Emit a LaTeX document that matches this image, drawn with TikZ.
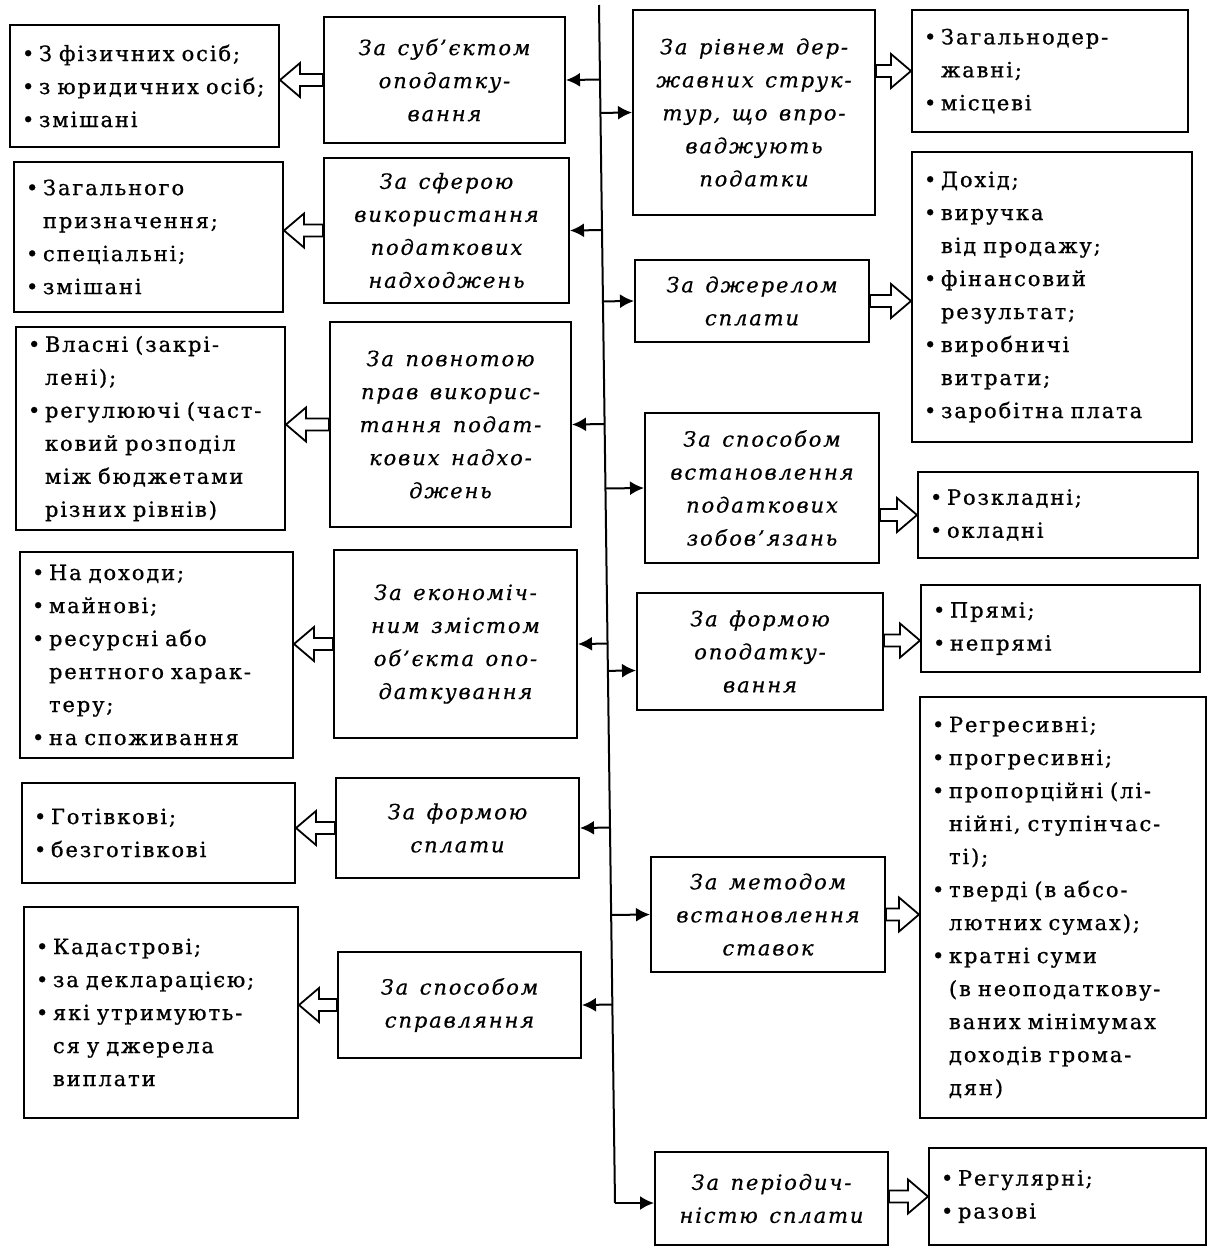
\documentclass[tikz,border=0pt]{standalone}
\usepackage{fontspec}
\setmainfont{DejaVu Serif}
\newfontfamily\listfont{DejaVu Serif}[LetterSpace=9, WordSpace=1.35, FakeBold=0.8]
\newfontfamily\catfont{DejaVu Serif}[LetterSpace=9, WordSpace=1.35, FakeBold=0.5]
\usetikzlibrary{arrows.meta,calc}
\newcommand\itembul{\makebox[17pt][l]{•}}
\newcommand\itemcont{\hspace*{17pt}}
\tikzset{
  frame/.style={draw, line width=2pt, inner ysep=0pt},
  catbox/.style={frame, align=center, inner xsep=2pt, font=\catfont\itshape\fontsize{21}{33}\selectfont},
  listbox/.style={frame, align=left, inner xsep=12pt, font=\listfont\fontsize{21}{33}\selectfont},
  branch/.style={line width=2pt, -{Latex[length=14pt,width=14pt]}},
  spine/.style={line width=2pt},
  hollow/.style={line width=1.8pt, to path={
    let \p1=(\tikztostart), \p2=(\tikztotarget), \n1={sign(\x2-\x1)} in
    (\x1,{\y1-6pt}) -- ({\x2-(\n1)*20pt},{\y1-6pt}) -- ({\x2-(\n1)*20pt},{\y1-17pt})
    -- (\x2,\y1) -- ({\x2-(\n1)*20pt},{\y1+17pt}) -- ({\x2-(\n1)*20pt},{\y1+6pt})
    -- (\x1,{\y1+6pt}) -- cycle}}
}
\begin{document}
\begin{tikzpicture}[x=1pt,y=-1pt]
\fill[white] (0,0) rectangle (1211,1248);
\useasboundingbox (0,0) rectangle (1211,1248);

% left lists
\node[listbox, minimum width=269pt, minimum height=122pt, text width=245pt] (L1) at (144.5,86)
  {\itembul З фізичних осіб;\\ \itembul з юридичних осіб;\\ \itembul змішані};
\node[listbox, minimum width=269pt, minimum height=150pt, text width=245pt] (L2) at (148.5,237)
  {\itembul Загального\\ \itemcont призначення;\\ \itembul спеціальні;\\ \itembul змішані};
\node[listbox, minimum width=269pt, minimum height=203pt, text width=245pt] (L3) at (150.5,428.5)
  {\itembul Власні (закрі-\\ \itemcont лені);\\ \itembul регулюючі (част-\\ \itemcont ковий розподіл\\ \itemcont між бюджетами\\ \itemcont різних рівнів)};
\node[listbox, minimum width=273pt, minimum height=206pt, text width=249pt] (L4) at (156.5,655)
  {\itembul На доходи;\\ \itembul майнові;\\ \itembul ресурсні або\\ \itemcont рентного харак-\\ \itemcont теру;\\ \itembul на споживання};
\node[listbox, minimum width=273pt, minimum height=100pt, text width=249pt] (L5) at (158.5,833)
  {\itembul Готівкові;\\ \itembul безготівкові};
\node[listbox, minimum width=274pt, minimum height=211pt, text width=250pt] (L6) at (161,1012.5)
  {\itembul Кадастрові;\\ \itembul за декларацією;\\ \itembul які утримують-\\ \itemcont ся у джерела\\ \itemcont виплати};

% left categories
\node[catbox, minimum width=241pt, minimum height=126pt] (C1) at (444.5,80)
  {За суб’єктом\\ оподатку-\\ вання};
\node[catbox, minimum width=245pt, minimum height=145pt] (C2) at (446.5,230.5)
  {За сферою\\ використання\\ податкових\\ надходжень};
\node[catbox, minimum width=241pt, minimum height=205pt] (C3) at (450.5,424.5)
  {За повнотою\\ прав викорис-\\ тання подат-\\ кових надхо-\\ джень};
\node[catbox, minimum width=243pt, minimum height=188pt] (C4) at (455.5,644)
  {За економіч-\\ ним змістом\\ об’єкта опо-\\ даткування};
\node[catbox, minimum width=243pt, minimum height=100pt] (C5) at (457.5,828)
  {За формою\\ сплати};
\node[catbox, minimum width=243pt, minimum height=106pt] (C6) at (459.5,1005)
  {За способом\\ справляння};

% right categories
\node[catbox, minimum width=242pt, minimum height=205pt] (R1) at (754,112.5)
  {За рівнем дер-\\ жавних струк-\\ тур, що впро-\\ ваджують\\ податки};
\node[catbox, minimum width=234pt, minimum height=82pt] (R2) at (752,301)
  {За джерелом\\ сплати};
\node[catbox, minimum width=234pt, minimum height=150pt] (R3) at (762,488)
  {За способом\\ встановлення\\ податкових\\ зобов’язань};
\node[catbox, minimum width=246pt, minimum height=117pt] (R4) at (760,651.5)
  {За формою\\ оподатку-\\ вання};
\node[catbox, minimum width=234pt, minimum height=115pt] (R5) at (768,914.5)
  {За методом\\ встановлення\\ ставок};
\node[catbox, minimum width=233pt, minimum height=93pt] (R6) at (771.5,1198.5)
  {За періодич-\\ ністю сплати};

% right lists
\node[listbox, minimum width=276pt, minimum height=122pt, text width=252pt] (RR1) at (1050,71)
  {\itembul Загальнодер-\\ \itemcont жавні;\\ \itembul місцеві};
\node[listbox, minimum width=280pt, minimum height=290pt, text width=256pt] (RR2) at (1052,297)
  {\itembul Дохід;\\ \itembul виручка\\ \itemcont від продажу;\\ \itembul фінансовий\\ \itemcont результат;\\ \itembul виробничі\\ \itemcont витрати;\\ \itembul заробітна плата};
\node[listbox, minimum width=280pt, minimum height=86pt, text width=256pt] (RR3) at (1058,515)
  {\itembul Розкладні;\\ \itembul окладні};
\node[listbox, minimum width=279pt, minimum height=87pt, text width=255pt] (RR4) at (1060.5,628.5)
  {\itembul Прямі;\\ \itembul непрямі};
\node[listbox, minimum width=286pt, minimum height=421pt, text width=262pt] (RR5) at (1063,907.5)
  {\itembul Регресивні;\\ \itembul прогресивні;\\ \itembul пропорційні (лі-\\ \itemcont нійні, ступінчас-\\ \itemcont ті);\\ \itembul тверді (в абсо-\\ \itemcont лютних сумах);\\ \itembul кратні суми\\ \itemcont (в неоподаткову-\\ \itemcont ваних мінімумах\\ \itemcont доходів грома-\\ \itemcont дян)};
\node[listbox, minimum width=277pt, minimum height=97pt, text width=253pt] (RR6) at (1067.5,1196.5)
  {\itembul Регулярні;\\ \itembul разові};

% spine
\coordinate (sT) at (599,5);
\coordinate (sB) at (615,1203);
\draw[spine] (sT) -- (sB);
\draw[branch] (sB) -- (sB -| R6.west);

% branches to the left
\foreach \c in {C1,C2,C3,C4,C5,C6}
  \draw[branch] ($(sT)!(\c.east)!(sB)$) -- (\c.east);
% branches to the right
\foreach \c in {R1,R2,R3,R5}
  \draw[branch] ($(sT)!(\c.west)!(sB)$) -- (\c.west);
\draw[branch] ($(sT)!([yshift=-19pt]R4.west)!(sB)$) -- ([yshift=-19pt]R4.west);

% hollow arrows
\draw[hollow] (C1.west) to (C1.west -| L1.east);
\draw[hollow] (C2.west) to (C2.west -| L2.east);
\draw[hollow] (C3.west) to (C3.west -| L3.east);
\draw[hollow] (C4.west) to (C4.west -| L4.east);
\draw[hollow] (C5.west) to (C5.west -| L5.east);
\draw[hollow] (C6.west) to (C6.west -| L6.east);
\draw[hollow] (R1.east |- RR1.west) to (RR1.west);
\draw[hollow] (R2.east) to (R2.east -| RR2.west);
\draw[hollow] (R3.east |- RR3.west) to (RR3.west);
\draw[hollow] ([yshift=11pt]R4.east) to ([yshift=11pt]R4.east -| RR4.west);
\draw[hollow] (R5.east) to (R5.east -| RR5.west);
\draw[hollow] (R6.east |- RR6.west) to (RR6.west);
\end{tikzpicture}
\end{document}
